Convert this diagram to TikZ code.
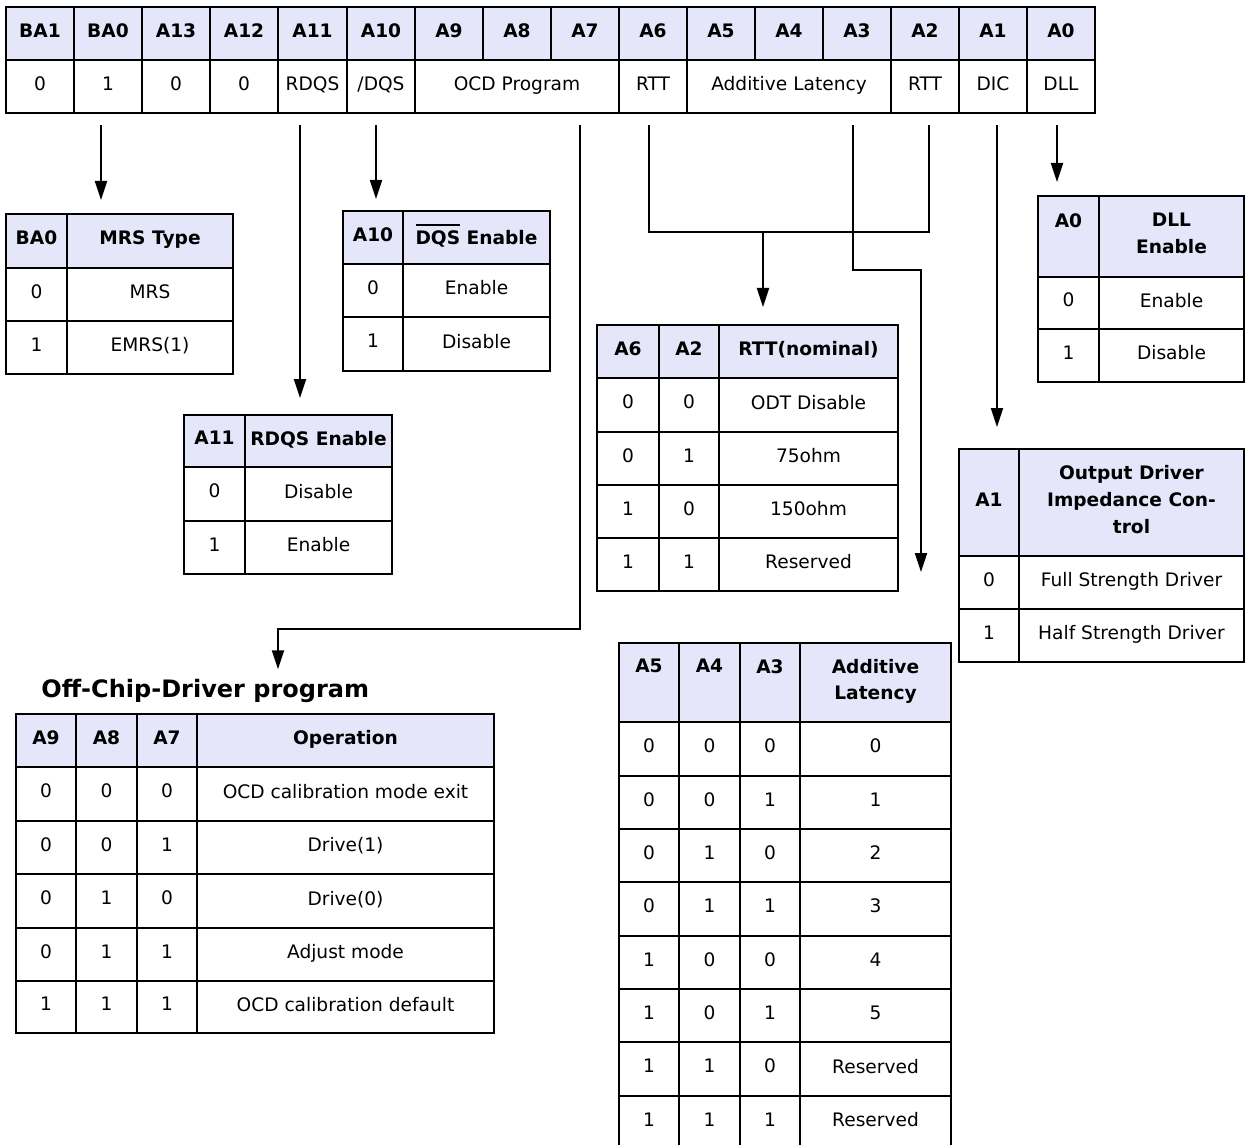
\documentclass[tikz,border=0pt]{standalone}
\usepackage{fontspec}
\setmainfont{DejaVu Sans}
\usetikzlibrary{arrows.meta,calc}
\definecolor{hdrfill}{RGB}{230,230,250}

% invisible strut so that all cell texts sit at the same height
\newcommand\cellstrut{\rule[-3pt]{0pt}{9.8pt}}
% text with a bar over it (active-low signal name)
\newcommand\ovl[1]{\setbox0\hbox{#1}\rlap{\rule[\dimexpr\ht0+2.4pt\relax]{\wd0}{1pt}}#1}

\tikzset{
  cell/.style={draw, line width=1pt, inner sep=0pt, outer sep=0pt, align=center,
    font=\fontsize{9.3}{13.3}\selectfont,
    execute at begin node=\cellstrut, execute at end node=\cellstrut},
  head/.style={fill=hdrfill, font=\fontsize{9.3}{13.3}\selectfont\bfseries},
  wire/.style={line width=1pt},
  arr/.style={wire, -{Triangle[width=6pt,length=9.5pt]}},
}

% one table cell: [style]{name}{x1}{y1}{x2}{y2}{text}
\newcommand\tcell[7][]{%
  \pgfmathsetmacro\cellw{((#5)-(#3))/2}%
  \pgfmathsetmacro\cellh{((#6)-(#4))/2}%
  \node[cell,#1,minimum width=\cellw pt,minimum height=\cellh pt] (#2)
    at ({((#3)+(#5))/2},{((#4)+(#6))/2}) {#7};}

% one table row: [style]{name prefix}{column edges}{y1}{y2}{cell texts}
\newcommand\trow[6][]{%
  \foreach \celltxt [count=\k from 0] in {#6} {%
    \pgfmathsetmacro\xl{{#3}[\k]}%
    \pgfmathsetmacro\xr{{#3}[\k+1]}%
    \tcell[#1]{#2\k}{\xl}{#4}{\xr}{#5}{\celltxt}}}

\begin{document}
\begin{tikzpicture}[x=0.5pt,y=-0.5pt]
\clip (0,0) rectangle (1245,1144);
\fill[white] (0,0) rectangle (1245,1144);

% ---------------- register layout ----------------
\trow[head]{reg}{6,74,142,210,278,347,415,483,551,619,687,755,823,891,959,1027,1095}{7}{60}
  {BA1,BA0,A13,A12,A11,A10,A9,A8,A7,A6,A5,A4,A3,A2,A1,A0}
\trow{val}{6,74,142,210,278,347,415,619,687,891,959,1027,1095}{60}{113}
  {0,1,0,0,RDQS,/DQS,OCD Program,RTT,Additive Latency,RTT,DIC,DLL}

% ---------------- MRS type ----------------
\trow[head]{mrsh}{6,67,233}{214}{268}{BA0,MRS Type}
\trow{mrsa}{6,67,233}{268}{321}{0,MRS}
\trow{mrsb}{6,67,233}{321}{374}{1,EMRS(1)}

% ---------------- DQS enable ----------------
\trow[head]{dqsh}{343,403,550}{211}{264}{A10,{\ovl{DQS} Enable}}
\trow{dqsa}{343,403,550}{264}{317}{0,Enable}
\trow{dqsb}{343,403,550}{317}{371}{1,Disable}

% ---------------- RDQS enable ----------------
\trow[head]{rdqsh}{184,245,392}{415}{467}{A11,RDQS Enable}
\trow{rdqsa}{184,245,392}{467}{521}{0,Disable}
\trow{rdqsb}{184,245,392}{521}{574}{1,Enable}

% ---------------- RTT ----------------
\trow[head]{rtth}{597,659,719,898}{325}{378}{A6,A2,RTT(nominal)}
\trow{rtta}{597,659,719,898}{378}{432}{0,0,ODT Disable}
\trow{rttb}{597,659,719,898}{432}{485}{0,1,75ohm}
\trow{rttc}{597,659,719,898}{485}{538}{1,0,150ohm}
\trow{rttd}{597,659,719,898}{538}{591}{1,1,Reserved}

% ---------------- DLL enable ----------------
\trow[head]{dllh}{1038,1099,1244}{196}{277}{{A0\\\mbox{}},{DLL\\Enable}}
\trow{dlla}{1038,1099,1244}{277}{329}{0,Enable}
\trow{dllb}{1038,1099,1244}{329}{382}{1,Disable}

% ---------------- output driver impedance ----------------
\trow[head]{dich}{959,1019,1244}{449}{556}{A1,{Output Driver\\Impedance Con-\\trol}}
\trow{dica}{959,1019,1244}{556}{609}{0,Full Strength Driver}
\trow{dicb}{959,1019,1244}{609}{662}{1,Half Strength Driver}

% ---------------- off-chip-driver program ----------------
\node[anchor=base west, inner sep=0pt, font=\fontsize{12}{14}\selectfont\bfseries]
  (ocdtitle) at (41,697) {Off-Chip-Driver program};
\trow[head]{ocdh}{16,76,137,197,494}{714}{767}{A9,A8,A7,Operation}
\trow{ocda}{16,76,137,197,494}{767}{821}{0,0,0,OCD calibration mode exit}
\trow{ocdb}{16,76,137,197,494}{821}{874}{0,0,1,Drive(1)}
\trow{ocdc}{16,76,137,197,494}{874}{928}{0,1,0,Drive(0)}
\trow{ocdd}{16,76,137,197,494}{928}{981}{0,1,1,Adjust mode}
\trow{ocde}{16,76,137,197,494}{981}{1033}{1,1,1,OCD calibration default}

% ---------------- additive latency ----------------
\trow[head]{alh}{619,679,740,800,951}{643}{722}{{A5\\\mbox{}},{A4\\\mbox{}},{A3\\\mbox{}},{Additive\\Latency}}
\trow{ala}{619,679,740,800,951}{722}{776}{0,0,0,0}
\trow{alb}{619,679,740,800,951}{776}{829}{0,0,1,1}
\trow{alc}{619,679,740,800,951}{829}{882}{0,1,0,2}
\trow{ald}{619,679,740,800,951}{882}{936}{0,1,1,3}
\trow{ale}{619,679,740,800,951}{936}{989}{1,0,0,4}
\trow{alf}{619,679,740,800,951}{989}{1042}{1,0,1,5}
\trow{alg}{619,679,740,800,951}{1042}{1096}{1,1,0,Reserved}
\trow{alj}{619,679,740,800,951}{1096}{1149}{1,1,1,Reserved}

% ---------------- connectors ----------------
\coordinate (sBA0) at ($(val1.south)+(-7,12)$);
\coordinate (sA11) at ($(val4.south)+(-12.5,12)$);
\coordinate (sA10) at ($(val5.south)+(-5,12)$);
\coordinate (sA7)  at ($(val6.south)+(63,12)$);
\coordinate (sA6)  at ($(val7.south)+(-4,12)$);
\coordinate (sA3)  at ($(val8.south)+(64,12)$);
\coordinate (sA2)  at ($(val9.south)+(4,12)$);
\coordinate (sA1)  at ($(val10.south)+(4,12)$);
\coordinate (sA0)  at ($(val11.south)+(-4,12)$);

\draw[arr, shorten >=7pt] (sBA0) -- (sBA0 |- mrsh1.north);
\draw[arr, shorten >=8.5pt] (sA11) -- (sA11 |- rdqsh1.north);
\draw[arr, shorten >=6pt] (sA10) -- (sA10 |- dqsh0.north);

\coordinate (kA7) at (278,629);
\draw[arr, shorten >=4.5pt] (sA7) |- (kA7) -- (kA7 |- ocdtitle.north);

\coordinate (jRTT) at (763,232);
\draw[wire] (sA6) |- (jRTT) -| (sA2);
\draw[arr, shorten >=9pt] (jRTT) -- (jRTT |- rtth2.north);

\coordinate (kA3) at (921,270);
\draw[arr, shorten >=35.5pt] (sA3) |- (kA3) -- (kA3 |- alh3.north);

\draw[arr, shorten >=11pt] (sA1) -- (sA1 |- dich0.north);
\draw[arr, shorten >=7pt] (sA0) -- (sA0 |- dllh0.north);
\end{tikzpicture}
\end{document}
